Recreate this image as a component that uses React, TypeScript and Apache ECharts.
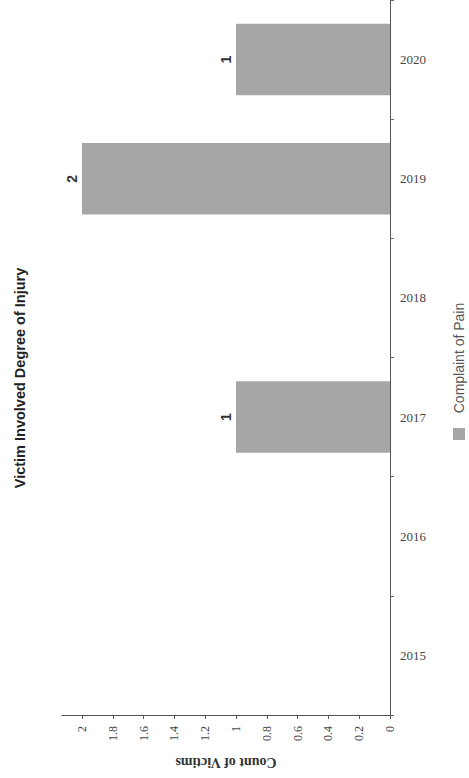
import React, { useEffect, useRef } from "react";
import * as echarts from "echarts";

const categories = ["2015", "2016", "2017", "2018", "2019", "2020"];
const complaintOfPain: (number | null)[] = [null, null, 1, null, 2, 1];
const valueMax = 2.13;
const valueInterval = 0.2;
const titleText = "Victim Involved Degree of Injury";
const legendText = "Complaint of Pain";
const axisNameText = "Count of Victims";

const SERIF = "'Liberation Serif', 'Times New Roman', serif";
const SANS = "'Liberation Sans', Arial, sans-serif";
const BAR = "#a6a6a6";

export default function App() {
  const ref = useRef<HTMLDivElement>(null);
  useEffect(() => {
    if (!ref.current) return;
    const chart = echarts.init(ref.current, undefined, { renderer: "svg" });
    chart.setOption({
      animation: false,
      backgroundColor: "#ffffff",
      grid: { left: 62, right: 79, top: 0, bottom: 63, containLabel: false },
      xAxis: {
        type: "value",
        inverse: true,
        position: "bottom",
        min: 0,
        max: valueMax,
        interval: valueInterval,
        splitLine: { show: false },
        axisLine: { show: true, lineStyle: { color: "#555", width: 1 } },
        axisTick: { show: true, length: 4, lineStyle: { color: "#555" } },
        axisLabel: {
          rotate: 90,
          margin: 11,
          showMaxLabel: false,
          fontFamily: SERIF,
          fontSize: 12,
          color: "#444",
        },
        name: axisNameText,
        nameLocation: "middle",
        nameRotate: 180,
        nameGap: 40,
        nameTextStyle: { fontFamily: SERIF, fontSize: 14, fontWeight: "bold", color: "#333" },
      },
      yAxis: {
        type: "category",
        data: categories,
        position: "right",
        axisLine: { show: true, lineStyle: { color: "#555", width: 1 } },
        axisTick: { show: true, length: 4, lineStyle: { color: "#666" } },
        axisLabel: { margin: 10, fontFamily: SERIF, fontSize: 13, color: "#444" },
        splitLine: { show: false },
      },
      series: [
        {
          type: "bar",
          name: legendText,
          data: complaintOfPain,
          barCategoryGap: "40%",
          itemStyle: { color: BAR },
          label: {
            show: true,
            position: "left",
            distance: 3,
            rotate: 90,
            align: "center",
            verticalAlign: "bottom",
            fontFamily: SANS,
            fontSize: 14,
            fontWeight: "bold",
            color: "#333",
          },
        },
      ],
      graphic: [
        {
          type: "text",
          x: 20,
          y: 378,
          rotation: Math.PI / 2,
          style: {
            text: titleText,
            fontFamily: SANS,
            fontSize: 14.5,
            fontWeight: "bold",
            fill: "#222",
            align: "center",
            verticalAlign: "middle",
          },
        },
        {
          type: "rect",
          shape: { x: 453, y: 428, width: 12, height: 12 },
          style: { fill: BAR },
        },
        {
          type: "text",
          x: 459,
          y: 358,
          rotation: Math.PI / 2,
          style: {
            text: legendText,
            fontFamily: SANS,
            fontSize: 14,
            fill: "#555",
            align: "center",
            verticalAlign: "middle",
          },
        },
      ],
    });
    return () => chart.dispose();
  }, []);
  return (
    <div
      ref={ref}
      style={{ position: "fixed", left: 0, top: 0, width: 469, height: 778, background: "#fff" }}
    />
  );
}
